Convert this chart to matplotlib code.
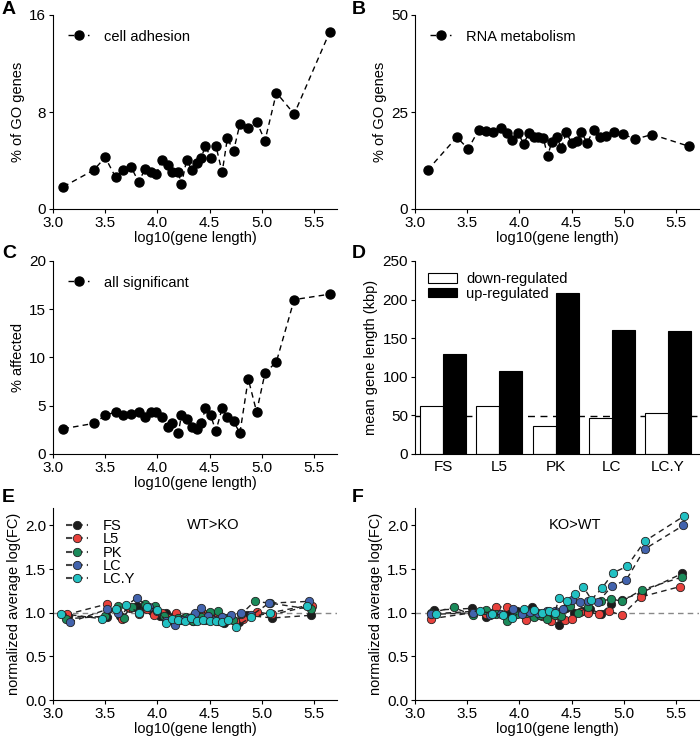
#!/usr/bin/env python3
"""
Gene length panels A-F: GO term fraction, affected genes, mean length, log(FC) vs length
"""

import matplotlib
matplotlib.use('Agg')
import matplotlib.pyplot as plt
from matplotlib.lines import Line2D

plt.rcParams['font.family'] = ['Liberation Sans', 'DejaVu Sans']
plt.rcParams['font.size'] = 10.5

# --- Panel A: cell adhesion ---
a_x = [3.10, 3.39, 3.50, 3.60, 3.67, 3.75, 3.82, 3.88, 3.94, 3.99, 4.04, 4.10, 4.14, 4.20,
       4.23, 4.28, 4.33, 4.38, 4.42, 4.46, 4.51, 4.56, 4.62, 4.67, 4.73, 4.79, 4.87, 4.95,
       5.03, 5.14, 5.31, 5.65]
a_y = [1.84, 3.21, 4.26, 2.61, 3.21, 3.43, 2.23, 3.27, 3.08, 2.86, 4.04, 3.63, 3.02, 3.02,
       2.03, 4.04, 3.21, 3.82, 4.23, 5.22, 4.23, 5.22, 3.02, 5.82, 4.81, 7.01, 6.65, 7.20,
       5.63, 9.59, 7.83, 14.6]

# --- Panel B: RNA metabolism ---
b_x = [3.12, 3.40, 3.51, 3.61, 3.68, 3.75, 3.82, 3.88, 3.93, 3.99, 4.04, 4.09, 4.14, 4.18,
       4.23, 4.27, 4.31, 4.36, 4.40, 4.45, 4.50, 4.55, 4.59, 4.65, 4.71, 4.77, 4.83, 4.91,
       4.99, 5.11, 5.27, 5.62]
b_y = [10.0, 18.5, 15.5, 20.4, 20.1, 19.8, 21.0, 19.5, 17.8, 19.5, 16.8, 19.5, 18.6, 18.6,
       18.2, 13.7, 17.2, 18.6, 15.6, 19.8, 16.9, 17.4, 19.8, 17.1, 20.4, 18.5, 18.8, 19.9,
       19.3, 18.0, 19.2, 16.2]

# --- Panel C: all significant ---
c_x = a_x
c_y = [2.62, 3.17, 3.99, 4.37, 3.99, 4.17, 4.37, 3.79, 4.37, 4.37, 3.79, 2.75, 3.17, 2.17,
       3.99, 3.58, 2.75, 2.58, 3.17, 4.75, 3.99, 2.38, 4.75, 3.79, 3.37, 2.17, 7.78, 4.37,
       8.36, 9.57, 16.0, 16.56]

# --- Panel D: mean gene length ---
d_groups = ['FS', 'L5', 'PK', 'LC', 'LC.Y']
d_down = [62, 62, 36, 47, 53]
d_up = [129, 107, 209, 161, 159]
d_ref = 49

# --- Panel E: WT>KO ---
cell_types = ['FS', 'L5', 'PK', 'LC', 'LC.Y']
colors = ['#1c1c1c', '#e8413c', '#1a8a5a', '#4263ad', '#22c1c3']

e_x = {
    'FS': [3.14, 3.52, 3.64, 3.72, 3.80, 3.88, 3.95, 4.02, 4.08, 4.15, 4.22, 4.28, 4.34, 4.40,
           4.46, 4.52, 4.58, 4.64, 4.70, 4.78, 4.86, 5.10, 5.47],
    'L5': [3.13, 3.52, 3.66, 3.74, 3.82, 3.90, 3.97, 4.04, 4.10, 4.18, 4.25, 4.32, 4.38, 4.45,
           4.52, 4.58, 4.66, 4.74, 4.82, 4.95, 5.10, 5.48],
    'PK': [3.12, 3.50, 3.62, 3.68, 3.76, 3.88, 3.98, 4.06, 4.13, 4.20, 4.27, 4.34, 4.42, 4.50,
           4.58, 4.65, 4.72, 4.80, 4.93, 5.08, 5.47],
    'LC': [3.16, 3.52, 3.62, 3.80, 3.92, 4.00, 4.08, 4.17, 4.24, 4.30, 4.36, 4.42, 4.48, 4.55,
           4.62, 4.70, 4.80, 4.90, 5.07, 5.45],
    'LC.Y': [3.08, 3.47, 3.60, 3.70, 3.82, 3.90, 4.00, 4.08, 4.14, 4.20, 4.26, 4.32, 4.38, 4.44,
             4.50, 4.56, 4.62, 4.68, 4.75, 4.90, 5.08, 5.43],
}
e_y = {
    'FS': [0.96, 0.95, 0.96, 1.06, 1.08, 1.05, 1.02, 0.96, 1.00, 0.95, 0.92, 0.94, 0.91, 0.93,
           0.92, 0.94, 0.90, 0.88, 0.93, 0.89, 0.97, 0.94, 0.97],
    'L5': [0.98, 1.10, 0.93, 1.05, 0.99, 1.04, 0.97, 1.00, 0.94, 1.00, 0.94, 0.92, 0.96, 0.98,
           0.93, 0.96, 0.92, 0.90, 0.93, 1.01, 0.98, 1.08],
    'PK': [0.93, 0.96, 1.08, 0.94, 1.06, 1.10, 1.08, 0.96, 0.92, 0.94, 0.95, 0.91, 0.95, 1.01,
           1.02, 0.94, 0.92, 0.98, 1.13, 1.11, 1.04],
    'LC': [0.89, 1.04, 1.00, 1.17, 1.06, 1.02, 0.91, 0.86, 0.92, 0.94, 1.00, 1.05, 0.96, 0.92,
           0.95, 0.97, 1.00, 0.97, 1.11, 1.13],
    'LC.Y': [0.99, 0.93, 1.04, 1.09, 1.00, 1.07, 1.03, 0.88, 0.93, 0.92, 0.90, 0.94, 0.91, 0.92,
             0.90, 0.91, 0.89, 0.92, 0.84, 0.95, 1.00, 1.08],
}

# --- Panel F: KO>WT ---
f_x = {
    'FS': [3.18, 3.55, 3.68, 3.78, 3.88, 3.98, 4.06, 4.12, 4.20, 4.28, 4.38, 4.45, 4.52, 4.60,
           4.68, 4.78, 4.88, 4.98, 5.17, 5.56],
    'L5': [3.15, 3.55, 3.68, 3.78, 3.88, 3.96, 4.06, 4.16, 4.22, 4.30, 4.38, 4.44, 4.50, 4.58,
           4.66, 4.76, 4.86, 4.98, 5.16, 5.54],
    'PK': [3.15, 3.37, 3.56, 3.68, 3.78, 3.88, 3.98, 4.06, 4.14, 4.20, 4.26, 4.34, 4.40, 4.48,
           4.56, 4.66, 4.78, 4.88, 4.98, 5.17, 5.56],
    'LC': [3.15, 3.56, 3.72, 3.82, 3.94, 4.02, 4.10, 4.18, 4.26, 4.34, 4.42, 4.50, 4.58, 4.66,
           4.75, 4.89, 5.02, 5.20, 5.57],
    'LC.Y': [3.20, 3.62, 3.74, 3.84, 3.93, 4.04, 4.14, 4.22, 4.28, 4.34, 4.38, 4.46, 4.53, 4.61,
             4.69, 4.79, 4.90, 5.03, 5.20, 5.58],
}
f_y = {
    'FS': [1.03, 1.05, 0.95, 1.00, 0.98, 1.02, 1.01, 1.06, 0.98, 0.96, 0.86, 1.05, 1.00, 1.02,
           1.04, 0.99, 1.10, 1.15, 1.23, 1.45],
    'L5': [0.93, 1.00, 0.99, 1.07, 1.06, 0.98, 0.92, 0.97, 0.96, 0.91, 0.96, 0.92, 0.93, 1.01,
           1.00, 0.99, 1.02, 0.97, 1.18, 1.30],
    'PK': [1.00, 1.06, 0.97, 1.03, 0.99, 0.91, 0.98, 1.00, 0.95, 0.97, 0.93, 0.97, 0.96, 1.08,
           1.00, 1.06, 1.13, 1.16, 1.13, 1.26, 1.41],
    'LC': [0.98, 1.00, 0.97, 0.99, 1.04, 0.99, 1.01, 1.00, 1.02, 1.02, 1.04, 1.15, 1.12, 1.14,
           1.12, 1.31, 1.37, 1.73, 2.00],
    'LC.Y': [0.99, 1.02, 0.99, 0.97, 0.94, 1.04, 1.03, 1.00, 1.02, 1.00, 1.17, 1.14, 1.22, 1.30,
             1.15, 1.28, 1.46, 1.53, 1.82, 2.11],
}

W, H = 700, 740


def rect(x0, y0, x1, y1):
    """pixel box (top-left origin) -> figure fraction rect"""
    return [x0 / W, 1 - y1 / H, (x1 - x0) / W, (y1 - y0) / H]


def style_ax(ax):
    ax.spines['top'].set_visible(False)
    ax.spines['right'].set_visible(False)
    ax.tick_params(direction='out', length=3, width=0.8, pad=2, labelsize=11)
    ax.xaxis.labelpad = 1
    ax.yaxis.labelpad = 3


def line_panel(ax, x, y, label, ylim, yticks, ylabel):
    ax.plot(x, y, 'k--', marker='o', markersize=6.5, linewidth=1, dashes=(4, 3),
            label=label)
    ax.set_xlim(3.0, 5.72)
    ax.set_ylim(*ylim)
    ax.set_xticks([3.0, 3.5, 4.0, 4.5, 5.0, 5.5])
    ax.set_yticks(yticks)
    ax.set_ylabel(ylabel)
    ax.set_xlabel('log10(gene length)')
    ax.legend(loc='upper left', frameon=False, handlelength=1.5, handletextpad=1.0,
              fontsize=10.5, borderaxespad=0.6)
    style_ax(ax)


def fc_panel(ax, xs, ys, tag, show_legend):
    ax.axhline(1.0, color='#888888', linestyle='--', linewidth=1, dashes=(4, 3), zorder=1)
    for ct, c in zip(cell_types, colors):
        ax.plot(xs[ct], ys[ct], color='#222222', linestyle='--', dashes=(4, 3), linewidth=1,
                marker='o', markersize=6, markerfacecolor=c, markeredgecolor='#222222',
                markeredgewidth=0.6, zorder=2)
    ax.set_xlim(3.0, 5.72)
    ax.set_ylim(0, 2.2)
    ax.set_xticks([3.0, 3.5, 4.0, 4.5, 5.0, 5.5])
    ax.set_yticks([0.0, 0.5, 1.0, 1.5, 2.0])
    ax.set_yticklabels(['0.0', '0.5', '1.0', '1.5', '2.0'])
    ax.set_xlabel('log10(gene length)')
    ax.set_ylabel('normalized average log(FC)')
    ax.text(4.53, 2.0, tag, ha='center', va='center', fontsize=10.5)
    if show_legend:
        handles = [Line2D([0], [0], color='#444444', linestyle='--', dashes=(3, 2),
                          marker='o', markersize=6, markerfacecolor=c,
                          markeredgecolor='#222222', markeredgewidth=0.6)
                   for c in colors]
        ax.legend(handles, cell_types, loc='upper left', frameon=False, handlelength=1.5,
                  handletextpad=1.0, labelspacing=-0.05, fontsize=10.5,
                  bbox_to_anchor=(0.0, 1.01))
    style_ax(ax)


fig = plt.figure(figsize=(7, 7.4), dpi=100)

axA = fig.add_axes(rect(53, 15, 337, 209))
line_panel(axA, a_x, a_y, 'cell adhesion', (0, 16), [0, 8, 16], '% of GO genes')

axB = fig.add_axes(rect(415, 15, 699, 209))
line_panel(axB, b_x, b_y, 'RNA metabolism', (0, 50), [0, 25, 50], '% of GO genes')

axC = fig.add_axes(rect(53, 261, 337, 454))
line_panel(axC, c_x, c_y, 'all significant', (0, 20), [0, 5, 10, 15, 20], '% affected')

axD = fig.add_axes(rect(415, 261, 699, 454))
pos = list(range(len(d_groups)))
bw = 0.41
axD.bar([p - bw / 2 for p in pos], d_down, width=bw, color='white', edgecolor='black',
        linewidth=0.8, label='down-regulated', zorder=2)
axD.bar([p + bw / 2 for p in pos], d_up, width=bw, color='black', edgecolor='black',
        linewidth=0.8, label='up-regulated', zorder=2)
axD.axhline(d_ref, color='black', linestyle='--', dashes=(5, 4), linewidth=1, zorder=1)
axD.set_xlim(-0.5, 4.55)
axD.set_ylim(0, 250)
axD.set_yticks([0, 50, 100, 150, 200, 250])
axD.set_xticks(pos)
axD.set_xticklabels(d_groups)
axD.set_ylabel('mean gene length (kbp)')
axD.legend(loc='upper left', frameon=False, handlelength=2.0, handleheight=0.6,
           handletextpad=0.6, labelspacing=0.05, fontsize=10.5, borderaxespad=0.5,
           bbox_to_anchor=(0.0, 1.01))
style_ax(axD)
axD.tick_params(axis='x', length=0, pad=4)

axE = fig.add_axes(rect(53, 508, 337, 700))
fc_panel(axE, e_x, e_y, 'WT>KO', True)

axF = fig.add_axes(rect(415, 508, 699, 700))
fc_panel(axF, f_x, f_y, 'KO>WT', False)

# panel letters
for letter, (px, py) in zip('ABCDEF', [(2, 18), (352, 18), (2, 262), (352, 262),
                                       (2, 506), (352, 506)]):
    fig.text(px / W, 1 - py / H, letter, fontsize=14, fontweight='bold', ha='left',
             va='bottom')

plt.savefig('out.png', dpi=100)
plt.close()
